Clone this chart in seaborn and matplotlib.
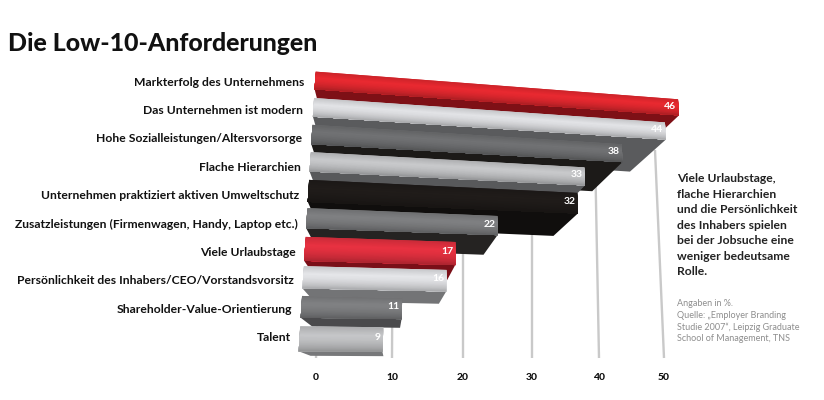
import numpy as np
import pandas as pd
import matplotlib
matplotlib.use("Agg")
import matplotlib.pyplot as plt
import seaborn as sns
from matplotlib.transforms import Affine2D, Transform

labels = ["Markterfolg des Unternehmens", "Das Unternehmen ist modern",
          "Hohe Sozialleistungen/Altersvorsorge", "Flache Hierarchien",
          "Unternehmen praktiziert aktiven Umweltschutz",
          "Zusatzleistungen (Firmenwagen, Handy, Laptop etc.)", "Viele Urlaubstage",
          "Persönlichkeit des Inhabers/CEO/Vorstandsvorsitz",
          "Shareholder-Value-Orientierung", "Talent"]
values = [46, 44, 38, 33, 32, 22, 17, 16, 11, 9]
ticks = [0, 10, 20, 30, 40, 50]
front_colors = ["#e3282f", "#dcdde0", "#6e6f71", "#c3c4c6", "#1f1b19",
                "#7c7d7f", "#e2303f", "#dfe0e3", "#7d7e80", "#c0c1c3"]
under_colors = ["#7e1016", "#5a5b5d", "#1c1a18", "#58595b", "#100e0d",
                "#252322", "#7a0f18", "#737476", "#4a4a4c", "#77787a"]
# shading down the front of a bar, top to bottom
shade = [0.90, 0.97, 1.03, 1.0, 0.94, 0.86, 0.74]

# how much of each row the front face takes up
face_share = [.67, .70, .71, .70, .78, .70, .82, .75, .72, .81]
# picture positions of the bar corners, used to fit the perspective
left_px = [(316, 71), (314, 98), (312, 125), (311, 153), (309, 180),
           (307, 208), (306, 237), (304, 265), (302, 296), (301, 327)]
right_px = [(678, 98), (665, 125), (624, 144), (583, 168), (577, 190),
            (497, 218), (455, 240), (446, 270), (402, 299), (384, 327)]
grid_low_px = [316, 392, 463, 532, 599, 664]
grid_high_px = [323, 393, 463, 532, 595, 655]
grid_y_px = (358, 150)
vanish = np.array([390.0, 386.0])
depth = 0.13


def fit_homography(src, dst):
    A, b = [], []
    for (x, y), (u, v) in zip(src, dst):
        A.append([x, y, 1, 0, 0, 0, -u * x, -u * y])
        A.append([0, 0, 0, x, y, 1, -v * x, -v * y])
        b += [u, v]
    h = np.linalg.lstsq(np.array(A, float), np.array(b, float), rcond=None)[0]
    return np.append(h, 1).reshape(3, 3)


def apply_h(H, x, y):
    w = H[2, 0] * x + H[2, 1] * y + 1
    return np.column_stack([(H[0, 0] * x + H[0, 1] * y + H[0, 2]) / w,
                            (H[1, 0] * x + H[1, 1] * y + H[1, 2]) / w])


src = [(0, r / 10) for r in range(10)] + [(values[r] / 50, r / 10) for r in range(10)]
dst = [(x / 800, y / 400) for x, y in left_px + right_px]
H_bars = fit_homography(src, dst)
share = np.array(face_share)


def bar_px(v, u):
    p = apply_h(H_bars, v / 50, u / 10)
    return p * [800, 400]


class FaceT(Transform):
    input_dims = output_dims = 2

    def transform_non_affine(self, xy):
        xy = np.asarray(xy, float)
        r = np.clip(np.round(xy[:, 1]), 0, 9).astype(int)
        t = (xy[:, 1] - r + 0.4) / 0.8
        return bar_px(xy[:, 0], r + t * share[r])


class UnderT(Transform):
    input_dims = output_dims = 2

    def transform_non_affine(self, xy):
        xy = np.asarray(xy, float)
        r = np.clip(np.round(xy[:, 1]), 0, 9).astype(int)
        t = (xy[:, 1] - r + 0.4) / 0.8
        p = bar_px(xy[:, 0], r + share[r])
        return p + (t * depth)[:, None] * (vanish - p)


class FloorT(Transform):
    # gridlines lean on their own, 0 = floor, 1 = far end
    input_dims = output_dims = 2

    def transform_non_affine(self, xy):
        xy = np.asarray(xy, float)
        low = np.interp(xy[:, 0], ticks, grid_low_px)
        high = np.interp(xy[:, 0], ticks, grid_high_px)
        d = xy[:, 1]
        return np.column_stack([low + (high - low) * d,
                                grid_y_px[0] + (grid_y_px[1] - grid_y_px[0]) * d])


sns.set_theme(style="white")
plt.rcParams["font.family"] = ["Lato", "DejaVu Sans"]

fig, ax = plt.subplots(figsize=(8.24, 4.0), dpi=100)
fig.subplots_adjust(0, 0, 1, 1)
px = Affine2D().scale(1 / 824, -1 / 400).translate(0, 1) + fig.transFigure
face_t = FaceT() + px
under_t = UnderT() + px
floor_t = FloorT() + px

df = pd.DataFrame({"label": labels, "value": values})

sns.barplot(data=df, x="value", y="label", hue="label", palette=under_colors,
            width=0.8, legend=False, ax=ax, saturation=1, linewidth=0)
for p in list(ax.patches):
    row = int(round(p.get_y() + p.get_height() / 2))
    p.set_transform(under_t)
    p.set_zorder(10 + 2 * row)
    p.set_clip_on(False)
n_under = len(ax.patches)

sns.barplot(data=df, x="value", y="label", hue="label", palette=front_colors,
            width=0.8, legend=False, ax=ax, saturation=1, linewidth=0)
for p in ax.patches[n_under:]:
    row = int(round(p.get_y() + p.get_height() / 2))
    p.set_transform(face_t)
    p.set_zorder(11 + 2 * row)
    p.set_clip_on(False)

# gradient on the fronts, each strip runs down to the bar bottom so no seams show
n_strips = 28
stops = np.linspace(0, 1, len(shade))
for row, (v, c) in enumerate(zip(values, front_colors)):
    rgb = np.array(matplotlib.colors.to_rgb(c))
    for k in range(n_strips):
        t = k / n_strips
        col = np.clip(rgb * np.interp(t, stops, shade), 0, 1)
        y0 = row - 0.4 + 0.8 * t
        strip = ax.barh(y0 + (row + 0.4 - y0) / 2, v, height=row + 0.4 - y0, color=col,
                        linewidth=0, zorder=11 + 2 * row)[0]
        strip.set_transform(face_t)
        strip.set_clip_on(False)

for v in ticks:
    ax.plot([v, v], [0, 1], color="#c9c9c9", lw=1.7, transform=floor_t, zorder=2,
            clip_on=False, solid_capstyle="butt")
    pos = floor_t.transform([(v, 0)])[0]
    pos = fig.transFigure.inverted().transform(pos)
    fig.text(pos[0], 1 - 378 / 400, str(v), ha="center", va="center", fontsize=7.5,
             fontweight="black", color="#111111")

ax.axis("off")

# value labels and row labels follow the bars
for row, (lab, v) in enumerate(zip(labels, values)):
    x, y = bar_px(np.array([float(v)]), np.array([row + 0.42 * share[row]]))[0]
    x2, y2 = px.transform((x - 2, y))
    fig.text(*fig.transFigure.inverted().transform((x2, y2)), str(v), ha="right", va="center",
             fontsize=7.5, fontweight="bold", color="white", zorder=50)
    x = bar_px(np.array([0.0]), np.array([float(row)]))[0][0]
    x2, y2 = px.transform((x - 11 + 0.2 * row, 82 + 28.4 * row))
    fig.text(*fig.transFigure.inverted().transform((x2, y2)), lab, ha="right", va="center",
             fontsize=8.7, fontweight="bold", color="#111111")

fig.text(8 / 824, 1 - 51 / 400, "Die Low-10-Anforderungen", fontsize=17.9, fontweight="black",
         color="#111111", ha="left", va="baseline")

note = ["Viele Urlaubstage,", "flache Hierarchien", "und die Persönlichkeit", "des Inhabers spielen",
        "bei der Jobsuche eine", "weniger bedeutsame", "Rolle."]
for i, line in enumerate(note):
    fig.text(677 / 824, 1 - (179 + 15.4 * i) / 400, line, fontsize=8.75, fontweight="bold",
             color="#222222", ha="left", va="center")

source = ["Angaben in %.", "Quelle: „Employer Branding", "Studie 2007“, Leipzig Graduate",
          "School of Management, TNS"]
for i, line in enumerate(source):
    fig.text(677 / 824, 1 - (304 + 11.6 * i) / 400, line, fontsize=6.5,
             color="#8e8e8e", ha="left", va="center")

fig.savefig("out.png", dpi=100)
